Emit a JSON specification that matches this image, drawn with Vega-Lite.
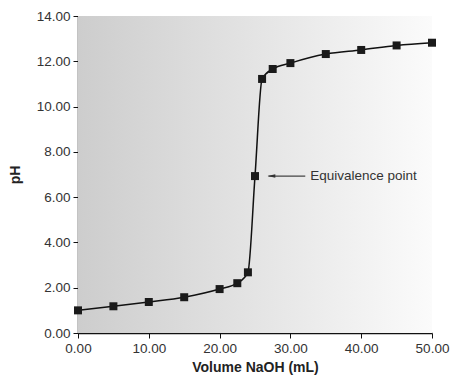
{
  "$schema": "https://vega.github.io/schema/vega-lite/v6.json",
  "width": 354,
  "height": 317,
  "autosize": "none",
  "padding": {"left": 78, "top": 16, "right": 19, "bottom": 45},
  "background": "white",
  "config": {
    "view": {"stroke": null},
    "axis": {
      "labelFont": "Liberation Sans",
      "titleFont": "Liberation Sans",
      "labelFontSize": 13.5,
      "labelColor": "#333333",
      "titleFontSize": 14,
      "titleColor": "#222222",
      "domainColor": "#111111",
      "domainWidth": 1.5,
      "tickColor": "#111111",
      "tickWidth": 1,
      "tickSize": 5,
      "grid": false,
      "labelFlush": false
    }
  },
  "datasets": {
    "curve": [
      {"v": 0, "ph": 1.0},
      {"v": 5, "ph": 1.18},
      {"v": 10, "ph": 1.37},
      {"v": 15, "ph": 1.58},
      {"v": 20, "ph": 1.94},
      {"v": 22.5, "ph": 2.2},
      {"v": 24, "ph": 2.68},
      {"v": 25, "ph": 6.93},
      {"v": 26, "ph": 11.22},
      {"v": 27.5, "ph": 11.66},
      {"v": 30, "ph": 11.92},
      {"v": 35, "ph": 12.32},
      {"v": 40, "ph": 12.5},
      {"v": 45, "ph": 12.7},
      {"v": 50, "ph": 12.82}
    ],
    "bg": [{"x": 0, "x2": 50, "y": 0, "y2": 14}],
    "arrow": [{"x": 26.9, "x2": 32.1, "y": 6.93, "tx": 32.8, "label": "Equivalence point"}]
  },
  "layer": [
    {
      "data": {"name": "bg"},
      "mark": {
        "type": "rect",
        "fill": {
          "gradient": "linear",
          "x1": 0, "y1": 0, "x2": 1, "y2": 0,
          "stops": [
            {"offset": 0, "color": "#cdcdcd"},
            {"offset": 0.5, "color": "#e4e4e4"},
            {"offset": 1, "color": "#fbfbfb"}
          ]
        }
      },
      "encoding": {
        "x": {"field": "x", "type": "quantitative", "scale": {"domain": [0, 50]},
              "axis": {"values": [0, 10, 20, 30, 40, 50], "format": ".2f", "title": "Volume NaOH (mL)", "titlePadding": 6, "labelPadding": 3}},
        "x2": {"field": "x2"},
        "y": {"field": "y", "type": "quantitative", "scale": {"domain": [0, 14]},
              "axis": {"values": [0, 2, 4, 6, 8, 10, 12, 14], "format": ".2f", "title": "pH", "titlePadding": 14, "labelPadding": 3}},
        "y2": {"field": "y2"}
      }
    },
    {
      "data": {"name": "curve"},
      "mark": {"type": "line", "interpolate": "monotone", "color": "#111111", "strokeWidth": 1.5},
      "encoding": {
        "x": {"field": "v", "type": "quantitative"},
        "y": {"field": "ph", "type": "quantitative"}
      }
    },
    {
      "data": {"name": "curve"},
      "mark": {"type": "square", "color": "#1a1a1a", "opacity": 1, "size": 64, "filled": true},
      "encoding": {
        "x": {"field": "v", "type": "quantitative"},
        "y": {"field": "ph", "type": "quantitative"}
      }
    },
    {
      "data": {"name": "arrow"},
      "mark": {"type": "rule", "color": "#444444", "strokeWidth": 1.3},
      "encoding": {
        "x": {"field": "x", "type": "quantitative"},
        "x2": {"field": "x2"},
        "y": {"field": "y", "type": "quantitative"}
      }
    },
    {
      "data": {"name": "arrow"},
      "mark": {"type": "point", "shape": "M-1,0L1,-0.45L1,0.45Z", "filled": true, "color": "#333333", "opacity": 1, "size": 60, "xOffset": 3},
      "encoding": {
        "x": {"field": "x", "type": "quantitative"},
        "y": {"field": "y", "type": "quantitative"}
      }
    },
    {
      "data": {"name": "arrow"},
      "mark": {"type": "text", "align": "left", "baseline": "middle", "font": "Liberation Sans", "fontSize": 13.5, "color": "#333333"},
      "encoding": {
        "x": {"field": "tx", "type": "quantitative"},
        "y": {"field": "y", "type": "quantitative"},
        "text": {"field": "label"}
      }
    }
  ]
}
